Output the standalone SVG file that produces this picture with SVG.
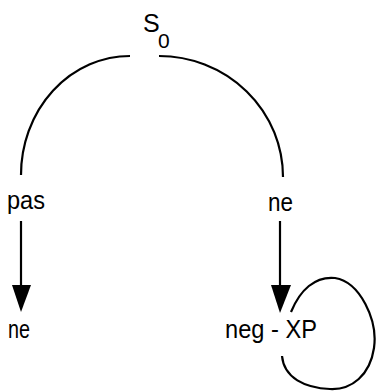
<svg xmlns="http://www.w3.org/2000/svg" width="376" height="392" viewBox="0 0 376 392">
<style>
.t{font-family:"Liberation Sans",Arial,sans-serif;font-size:25px;fill:#000}
.e{fill:none;stroke:#000;stroke-width:2.2}
.h{fill:#000;stroke:none}
</style>
<rect width="376" height="392" fill="#fff"/>
<g id="connectors">
<path class="e" d="M130,56 A109,119 0 0 0 21,175"/>
<path class="e" d="M159,56 A124,121 0 0 1 283,177"/>
<line class="e" x1="21" y1="221" x2="21" y2="288"/>
<polygon class="h" points="12,285 31,285 21,312"/>
<line class="e" x1="280" y1="221" x2="280" y2="288"/>
<polygon class="h" points="271,285 291,285 280,313"/>
<path class="e" d="M291,312 C300,290 315,276 335,278 C360,282 378,320 374,348 C370,375 352,390 330,389 C305,388 284,378 282,356"/>
</g>
<g id="s0"><text class="t" x="143" y="32">S</text><text class="t" x="158" y="48" style="font-size:21px">0</text></g>
<g id="pas"><text class="t" x="7" y="209" textLength="38" lengthAdjust="spacingAndGlyphs">pas</text></g>
<g id="ne-top"><text class="t" x="268" y="211" textLength="25" lengthAdjust="spacingAndGlyphs">ne</text></g>
<g id="ne-bottom"><text class="t" x="8" y="338" textLength="22" lengthAdjust="spacingAndGlyphs">ne</text></g>
<g id="neg-xp"><text class="t" x="225" y="338" textLength="92" lengthAdjust="spacingAndGlyphs">neg - XP</text></g>
</svg>
